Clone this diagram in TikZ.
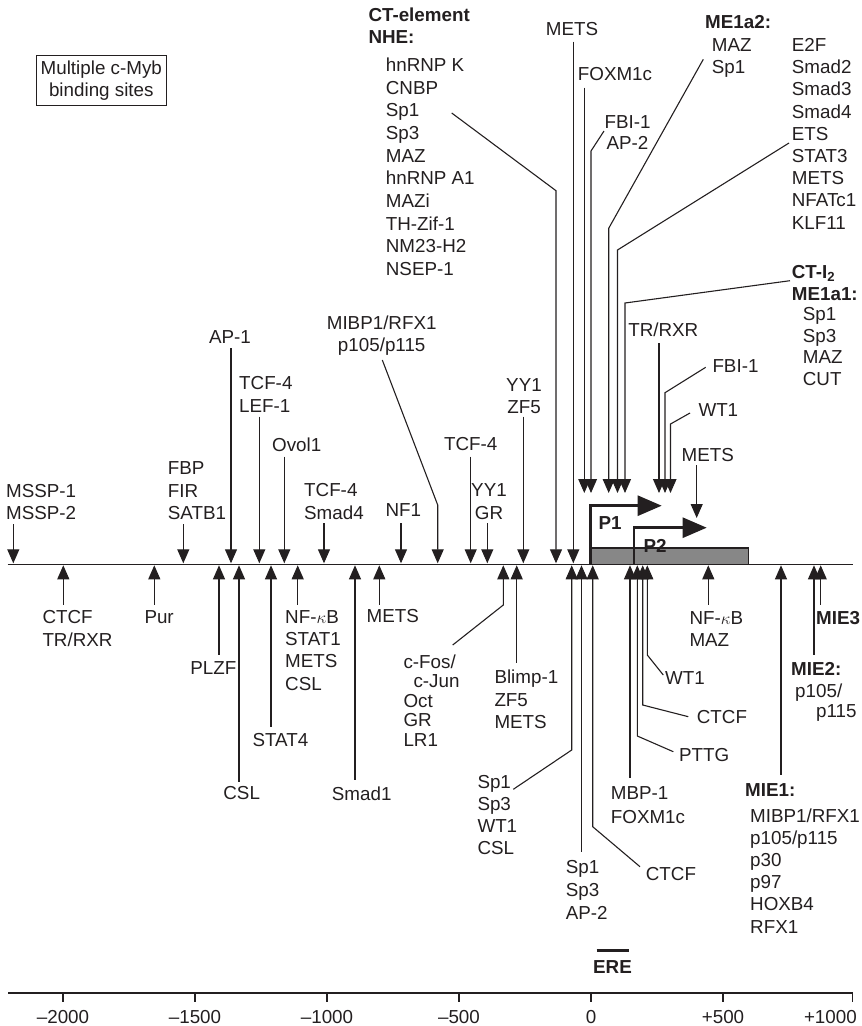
\documentclass[tikz,border=0pt]{standalone}
\usepackage{fontspec}
\setmainfont{Liberation Sans}
\usetikzlibrary{arrows.meta}
\definecolor{ink}{HTML}{231F20}
\definecolor{boxgray}{HTML}{878787}
\begin{document}
\begin{tikzpicture}[x=1pt,y=-1pt,
  lab/.style={inner sep=0pt,text=ink,align=left,font=\fontsize{18.8}{22.5}\selectfont},
  bl/.style={lab,font=\fontsize{18.8}{22.5}\selectfont\bfseries},
  sp/.style={font=\fontsize{18.8}{#1}\selectfont},
  bsp/.style={font=\fontsize{18.8}{#1}\selectfont\bfseries},
  con/.style={draw=ink,line width=1.1pt},
  dn/.style={con,-{Triangle[length=14pt,width=12pt]}},
  up/.style={con,{Triangle[length=14pt,width=12pt]}-},
  prom/.style={draw=ink,line width=2.6pt,-{Triangle[length=24pt,width=20pt]}},
  tick/.style={draw=ink,line width=1.2pt}
]
\useasboundingbox (0,0) rectangle (862,1026);

% ---------- gene body and main line ----------
\draw[ink,line width=1.1pt,fill=boxgray] (590.7,548) rectangle (748.3,564.3);
\draw[ink,line width=1.4pt] (7.5,564.3) coordinate (mlL) -- (853,564.3) coordinate (mlR);
\draw[prom] (590.7,564.3) -- (590.7,505.7) -- (661.7,505.7);
\draw[prom] (634,564.3) -- (634,527.7) -- (706.7,527.7);
\node[bl] (p1) at (610,523) {P1};
\node[bl] (p2) at (655,546) {P2};

% ---------- box ----------
\node[lab,draw=ink,line width=0.9pt,align=center,minimum width=129.3pt,minimum height=49.3pt] (myb) at (101.3,80.4) {Multiple c-Myb\\binding sites};

% ---------- upper labels ----------
\node[bl,anchor=north west,bsp=22.7] (nhe) at (368.3,7.2) {CT-element\\NHE:};
\node[lab,anchor=north west,sp=22.7] (nhel) at (385.7,57.5) {hnRNP K\\CNBP\\Sp1\\Sp3\\MAZ\\hnRNP A1\\MAZi\\TH-Zif-1\\NM23-H2\\NSEP-1};
\node[lab] (metsT) at (572,29) {METS};
\node[lab] (foxT) at (615,74) {FOXM1c};
\node[lab,align=center,anchor=north,sp=21.6] (fbiT) at (627.5,114.9) {FBI-1\\AP-2};
\node[bl,anchor=west] (me2) at (705,21.7) {ME1a2:};
\node[lab,anchor=north west,sp=21.7] (me2l) at (711.7,38.2) {MAZ\\Sp1};
\node[lab,anchor=north west,sp=22.2] (e2f) at (791.7,38.2) {E2F\\Smad2\\Smad3\\Smad4\\ETS\\STAT3\\METS\\NFATc1\\KLF11};
\node[bl,anchor=north west,bsp=22] (cti) at (791.7,265.2) {CT-I\textsubscript{2}\\ME1a1:};
\node[lab,anchor=north west,sp=21.7] (ctil) at (802.7,307.2) {Sp1\\Sp3\\MAZ\\CUT};
\node[lab] (trT) at (663.3,329.3) {TR/RXR};
\node[lab,anchor=west] (fbiR) at (712.3,366) {FBI-1};
\node[lab,anchor=west] (wtT) at (698.3,410) {WT1};
\node[lab] (metsR) at (707.7,455) {METS};

\node[lab] (ap1) at (230,336.7) {AP-1};
\node[lab,anchor=north west,sp=22.7] (tcfl) at (239,376.5) {TCF-4\\LEF-1};
\node[lab,anchor=west] (ovol) at (272,444.3) {Ovol1};
\node[lab,align=center,anchor=north,sp=21.6] (mibp) at (381.7,315.9) {MIBP1/RFX1\\p105/p115};
\node[lab,align=center,anchor=north,sp=22.3] (yyzf) at (524,378.2) {YY1\\ZF5};
\node[lab] (tcfm) at (470.7,444.3) {TCF-4};
\node[lab,anchor=north west,sp=22.5] (fbp) at (167.7,461.5) {FBP\\FIR\\SATB1};
\node[lab,anchor=north west,sp=22.3] (mssp) at (6,484.2) {MSSP-1\\MSSP-2};
\node[lab,anchor=north west,sp=22.7] (tcfs) at (304,483.2) {TCF-4\\Smad4};
\node[lab] (nf1) at (403.3,510) {NF1};
\node[lab,align=center,anchor=north,sp=22.7] (yygr) at (489,483.2) {YY1\\GR};

% ---------- upper connectors ----------
\draw[dn] (13.3,524) -- (13.3,563.3);
\draw[dn] (183.3,524) -- (183.3,563.3);
\draw[dn] (231,348.3) -- (231,563.3);
\draw[dn] (259.3,416.7) -- (259.3,563.3);
\draw[dn] (284.3,456.7) -- (284.3,563.3);
\draw[dn] (324,523.3) -- (324,563.3);
\draw[dn] (401,523) -- (401,563.3);
\draw[dn] (382.3,360) -- (437.7,505) -- (437.7,563.3);
\draw[dn] (470.7,456.7) -- (470.7,563.3);
\draw[dn] (487.3,523) -- (487.3,563.3);
\draw[dn] (523.3,416.7) -- (523.3,563.3);
\draw[dn] (451.7,113) -- (556,190.7) -- (556,563.3);
\draw[dn] (573.3,41.7) -- (573.3,563.3);
\draw[dn] (584.3,87.7) -- (584.3,493);
\draw[dn] (604,131) -- (591,151) -- (591,493);
\draw[dn] (703.3,59.3) -- (608.7,228.3) -- (608.7,493);
\draw[dn] (789,143) -- (617.5,250) -- (617.5,493);
\draw[dn] (790,280.7) -- (625,303) -- (625,493);
\draw[dn] (659,343) -- (659,493);
\draw[dn] (705.7,367.3) -- (665,392.7) -- (665,493);
\draw[dn] (690,413) -- (670.5,424) -- (670.5,493);
\draw[dn] (696.7,465) -- (696.7,518);

% ---------- lower labels ----------
\node[lab,anchor=north west,sp=23.3] (ctcfL) at (42.3,609.9) {CTCF\\TR/RXR};
\node[lab,anchor=west] (pur) at (144.3,616.7) {Pur};
\node[lab] (plzf) at (213.3,667.7) {PLZF};
\node[lab] (cslL) at (241.7,793.3) {CSL};
\node[lab,anchor=west] (stat4) at (252.3,740) {STAT4};
\node[lab,anchor=north west,sp=22.4] (nfkb) at (285,609.9) {NF-$\kappa$B\\STAT1\\METS\\CSL};
\node[lab] (smad1) at (361.7,793.3) {Smad1};
\node[lab] (metsB) at (392.7,616) {METS};
\node[lab,anchor=north west,sp=19.6] (cfos) at (403.3,654.2) {c-Fos/\\\hspace*{10pt}c-Jun\\Oct\\GR\\LR1};
\node[lab,anchor=north west,sp=22.5] (blimp) at (494.3,669.9) {Blimp-1\\ZF5\\METS};
\node[lab,anchor=north west,sp=22.2] (sp1a) at (477.3,774.9) {Sp1\\Sp3\\WT1\\CSL};
\node[lab,anchor=north west,sp=22.7] (sp1b) at (565.7,860.5) {Sp1\\Sp3\\AP-2};
\node[lab,anchor=west] (ctcfB) at (645.7,874) {CTCF};
\node[lab,anchor=north west,sp=23.4] (mbp) at (610.7,786.5) {MBP-1\\FOXM1c};
\node[lab,anchor=west] (pttg) at (679,755) {PTTG};
\node[lab,anchor=west] (ctcfR) at (696.7,716.7) {CTCF};
\node[lab,anchor=west] (wtB) at (665,678.3) {WT1};
\node[lab,anchor=north west,sp=22.3] (nfmaz) at (689.3,610.9) {NF-$\kappa$B\\MAZ};
\node[bl,anchor=west] (mie1) at (745,790) {MIE1:};
\node[lab,anchor=north west,sp=22.2] (mie1l) at (750,808.2) {MIBP1/RFX1\\p105/p115\\p30\\p97\\HOXB4\\RFX1};
\node[bl,anchor=west] (mie2) at (791,669.3) {MIE2:};
\node[lab,anchor=north west,sp=20.3] (mie2l) at (795,683.2) {p105/\\\hspace*{21pt}p115};
\node[bl,anchor=west] (mie3) at (816,617.7) {MIE3};

% ---------- lower connectors ----------
\draw[up] (63.3,565.3) -- (63.3,605);
\draw[up] (154.3,565.3) -- (154.3,605);
\draw[up] (219,565.3) -- (219,655);
\draw[up] (239,565.3) -- (239,781.7);
\draw[up] (271,565.3) -- (271,726.7);
\draw[up] (297.7,565.3) -- (297.7,605);
\draw[up] (355,565.3) -- (355,780);
\draw[up] (379.3,565.3) -- (379.3,605);
\draw[up] (503.3,565.3) -- (503.3,605) -- (452.7,645);
\draw[up] (516.7,565.3) -- (516.7,663.3);
\draw[up] (571.7,565.3) -- (571.7,750) -- (513.3,789.3);
\draw[up] (581.5,565.3) -- (581.5,852);
\draw[up] (592.7,565.3) -- (592.7,826.7) -- (640,866.7);
\draw[up] (630,565.3) -- (630,778.3);
\draw[up] (637.3,565.3) -- (637.3,736) -- (673.3,751.7);
\draw[up] (642.7,565.3) -- (642.7,705) -- (688.3,716.7);
\draw[up] (647.3,565.3) -- (647.3,655) -- (663.3,675);
\draw[up] (708.3,565.3) -- (708.3,605);
\draw[up] (781,565.3) -- (781,775);
\draw[up] (814,565.3) -- (814,655);
\draw[up] (820.7,565.3) -- (820.7,605);

% ---------- ERE and scale ----------
\draw[ink,line width=2.5pt] (596.7,950.7) coordinate (ereL) -- (629.3,950.7) coordinate (ereR);
\node[bl] (ere) at (612.5,966.7) {ERE};
\draw[ink,line width=2pt] (8,993.3) coordinate (axL) -- (853,993.3) coordinate (axR);
\foreach \xx/\tl/\nm in {63/--2000/a,195/--1500/b,327/--1000/c,459/--500/d,591/0/e,723/+500/f}{
  \draw[tick] (\xx,993.3) -- (\xx,1001.7);
  \node[lab] (t\nm) at (\xx,1017.3) {\tl};
}
\draw[tick] (852.3,993.3) -- (852.3,1001.7);
\node[lab,anchor=east] (tg) at (857,1017.3) {+1000};
\end{tikzpicture}
\end{document}
